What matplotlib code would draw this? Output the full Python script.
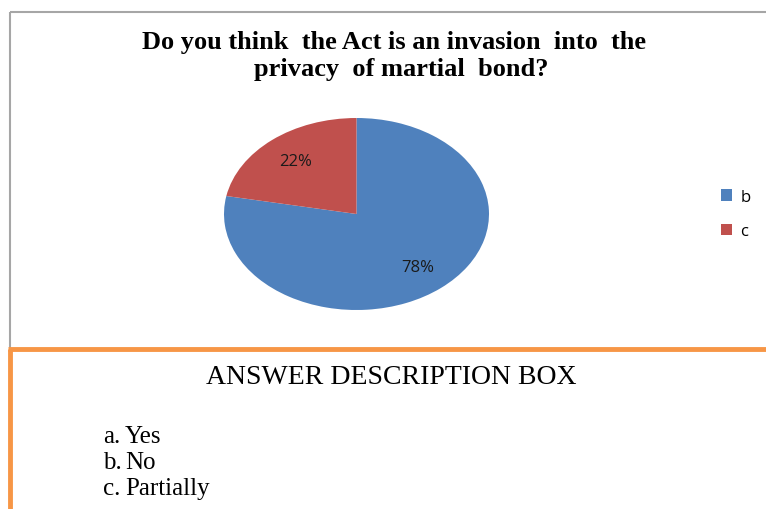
import matplotlib.pyplot as plt
from matplotlib.lines import Line2D

# survey answers shown in the pie
labels = ['b', 'c']
shares = [78, 22]
colors = ['#4F81BD', '#C0504D']

title_lines = ['Do you think  the Act is an invasion  into  the',
               'privacy  of martial  bond?']
box_title = 'ANSWER DESCRIPTION BOX'
answer_keys = ['a.', 'b.', 'c.']
answer_texts = ['Yes', 'No', 'Partially']

W, H = 766, 510
fig = plt.figure(figsize=(W / 100, H / 100), dpi=100)


def fx(x):
    return x / W


def fy(y):
    return 1 - y / H


def hline(x0, x1, y, color, lw):
    fig.add_artist(Line2D([fx(x0), fx(x1)], [fy(y), fy(y)], color=color,
                          lw=lw, transform=fig.transFigure, solid_capstyle='butt'))


def vline(x, y0, y1, color, lw):
    fig.add_artist(Line2D([fx(x), fx(x)], [fy(y0), fy(y1)], color=color,
                          lw=lw, transform=fig.transFigure, solid_capstyle='butt'))


serif = 'Liberation Serif'
sans = 'Open Sans'

# chart frame
hline(10, W, 13, '#A6A6A6', 1.5)
vline(10, 13, 349, '#A6A6A6', 1.5)

# title, two centred lines
fig.text(fx(394), fy(43), title_lines[0], ha='center', va='center', fontsize=19,
         fontweight='bold', family=serif)
fig.text(fx(401), fy(70), title_lines[1], ha='center', va='center', fontsize=19,
         fontweight='bold', family=serif)

# elliptical pie
ax = fig.add_axes([fx(224), fy(311), fx(489) - fx(224), fy(119) - fy(311)])
wedges, texts, autotexts = ax.pie(shares, colors=colors, startangle=90,
                                  counterclock=False, autopct='%d%%',
                                  pctdistance=0.72,
                                  textprops={'fontsize': 12, 'family': sans,
                                             'color': '#1a1a1a'})
ax.set_aspect('auto')
ax.set_xlim(-1, 1)
ax.set_ylim(-1, 1)
ax.axis('off')

# legend
fig.legend(wedges, labels, loc='center left', bbox_to_anchor=(fx(706), fy(215)),
           frameon=False, prop={'family': sans, 'size': 12},
           handlelength=0.65, handleheight=0.65, handletextpad=0.5, labelspacing=1.1)

# answer description box
hline(8, W, 350, '#F79646', 3.5)
vline(9.5, 350, H, '#F79646', 3.5)

fig.text(fx(391), fy(378), box_title, ha='center', va='center', fontsize=20,
         family=serif)
for i, (k, t) in enumerate(zip(answer_keys, answer_texts)):
    y = fy(443 + i * 26)
    fig.text(fx(103), y, k, ha='left', va='baseline', fontsize=18, family=serif)
    fig.text(fx(125), y, t, ha='left', va='baseline', fontsize=18, family=serif)

fig.savefig('out.png', dpi=100)
